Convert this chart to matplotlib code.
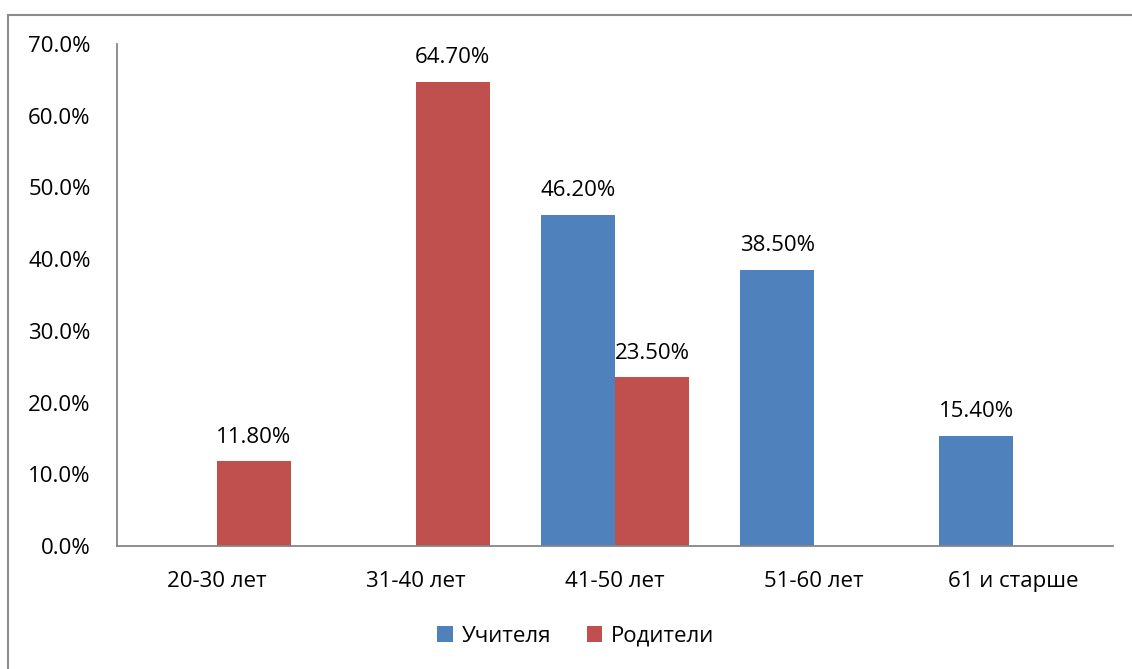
import matplotlib.pyplot as plt
import numpy as np
from matplotlib.patches import Rectangle

categories = ["20-30 лет", "31-40 лет", "41-50 лет", "51-60 лет", "61 и старше"]
teachers = [0.0, 0.0, 46.2, 38.5, 15.4]
parents = [11.8, 64.7, 23.5, 0.0, 0.0]
series_names = ["Учителя", "Родители"]
yticks = [0, 10, 20, 30, 40, 50, 60, 70]

plt.rcParams['font.family'] = ['Open Sans', 'DejaVu Sans']
fs = 16

fig = plt.figure(figsize=(11.32, 6.69), dpi=100)
ax = fig.add_axes([117 / 1132, 1 - 546 / 669, (1113 - 117) / 1132, (546 - 44) / 669])

# chart border (cropped on right/bottom)
fig.patches.append(Rectangle((8 / 1132, -0.1), 1.2, 1 - 15 / 669 + 0.1,
                             transform=fig.transFigure, fill=False,
                             edgecolor='#8c8c8c', linewidth=1.5))

x = np.arange(len(categories))
w = 0.372
b1 = ax.bar(x - w / 2, teachers, w, color='#4F81BD', label=series_names[0])
b2 = ax.bar(x + w / 2, parents, w, color='#C0504D', label=series_names[1])

for bars, vals in ((b1, teachers), (b2, parents)):
    for r, v in zip(bars, vals):
        if v > 0:
            ax.text(r.get_x() + r.get_width() / 2, v + 1.9, f"{v:.2f}%",
                    ha='center', va='bottom', fontsize=fs)

ax.set_xlim(-0.5, len(categories) - 0.5)
ax.set_ylim(0, 70)
ax.set_yticks(yticks)
ax.set_yticklabels([f"{t:.1f}%" for t in yticks], fontsize=fs)
ax.set_xticks(x)
ax.set_xticklabels(categories, fontsize=fs)
ax.tick_params(length=0)
ax.tick_params(axis='x', pad=18)
ax.tick_params(axis='y', pad=19)
for s in ('top', 'right'):
    ax.spines[s].set_visible(False)
for s in ('left', 'bottom'):
    ax.spines[s].set_color('#868686')
    ax.spines[s].set_linewidth(1.3)

fig.legend(loc='center', bbox_to_anchor=(576 / 1132, 1 - 636 / 669), ncol=2,
           frameon=False, fontsize=fs, handlelength=0.7, handleheight=0.7,
           columnspacing=1.6, handletextpad=0.4)

plt.savefig("out.png")
